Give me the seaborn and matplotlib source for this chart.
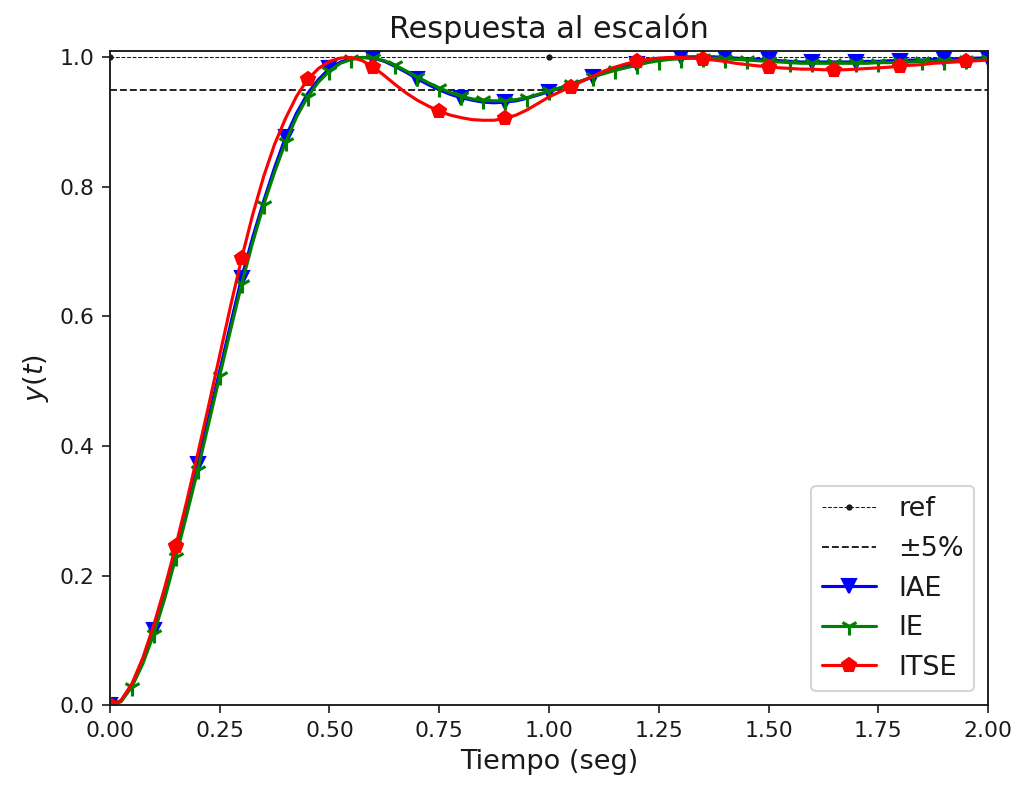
import matplotlib
matplotlib.use("Agg")
import matplotlib.pyplot as plt
import numpy as np
import pandas as pd
import seaborn as sns

# time axis, 0.025 s step
t = [round(0.025 * i, 3) for i in range(81)]

y_iae = [0.000, 0.006, 0.030, 0.068, 0.116, 0.172, 0.235, 0.302, 0.372, 0.444,
         0.516, 0.589, 0.660, 0.722, 0.778, 0.830, 0.877, 0.914, 0.944, 0.966,
         0.983, 0.993, 0.998, 1.000, 0.999, 0.994, 0.986, 0.977, 0.967, 0.958,
         0.950, 0.943, 0.938, 0.934, 0.931, 0.930, 0.931, 0.933, 0.937, 0.942,
         0.947, 0.953, 0.958, 0.964, 0.970, 0.976, 0.981, 0.986, 0.990, 0.994,
         0.997, 0.999, 1.000, 1.001, 1.001, 1.001, 1.000, 0.999, 0.998, 0.997,
         0.996, 0.995, 0.994, 0.993, 0.993, 0.993, 0.993, 0.993, 0.993, 0.994,
         0.994, 0.995, 0.995, 0.996, 0.996, 0.997, 0.997, 0.998, 0.998, 0.999,
         0.999]

y_ie = [0.000, 0.005, 0.028, 0.064, 0.110, 0.165, 0.228, 0.294, 0.363, 0.435,
        0.508, 0.580, 0.650, 0.714, 0.772, 0.823, 0.869, 0.908, 0.939, 0.962,
        0.979, 0.991, 0.997, 1.000, 0.999, 0.995, 0.988, 0.979, 0.970, 0.961,
        0.953, 0.946, 0.940, 0.936, 0.934, 0.933, 0.933, 0.935, 0.938, 0.943,
        0.948, 0.953, 0.959, 0.964, 0.970, 0.975, 0.980, 0.984, 0.988, 0.992,
        0.995, 0.997, 0.998, 0.999, 0.999, 0.999, 0.998, 0.997, 0.996, 0.995,
        0.994, 0.993, 0.992, 0.991, 0.991, 0.991, 0.991, 0.991, 0.991, 0.991,
        0.992, 0.992, 0.993, 0.993, 0.994, 0.994, 0.995, 0.995, 0.996, 0.996,
        0.997]

y_itse = [0.000, 0.007, 0.033, 0.073, 0.124, 0.182, 0.246, 0.315, 0.388, 0.463,
          0.540, 0.617, 0.690, 0.757, 0.816, 0.866, 0.906, 0.940, 0.966, 0.983,
          0.994, 0.999, 1.000, 0.995, 0.985, 0.972, 0.958, 0.945, 0.934, 0.925,
          0.917, 0.911, 0.907, 0.904, 0.903, 0.903, 0.906, 0.911, 0.919, 0.929,
          0.939, 0.947, 0.955, 0.963, 0.971, 0.979, 0.985, 0.990, 0.994, 0.997,
          0.999, 1.000, 1.000, 0.999, 0.998, 0.996, 0.994, 0.991, 0.989, 0.987,
          0.986, 0.984, 0.983, 0.982, 0.982, 0.981, 0.981, 0.981, 0.982, 0.983,
          0.984, 0.985, 0.987, 0.988, 0.989, 0.991, 0.992, 0.993, 0.994, 0.995,
          0.996]

ref_t = [0.0, 1.0, 2.0]
ref_y = [1.0, 1.0, 1.0]
band = [0.95, 1.05]

df = pd.DataFrame({"t": t, "IAE": y_iae, "IE": y_ie, "ITSE": y_itse})

sns.set_theme(style="ticks", rc={
    "text.color": "k", "axes.labelcolor": "k", "axes.edgecolor": "k",
    "xtick.color": "k", "ytick.color": "k",
})
plt.rcParams["font.family"] = ["DejaVu Sans"]
plt.rcParams["mathtext.fontset"] = "dejavusans"

fig = plt.figure(figsize=(1021 / 150, 788 / 150), dpi=150)
ax = fig.add_axes([0.1077, 0.1053, 0.86, 0.830])

ax.plot(ref_t, ref_y, "k.--", lw=0.5, ms=4, label="ref")
ax.axhline(band[0], color="k", ls="--", lw=0.9, label="±5%")
ax.axhline(band[1], color="k", ls="--", lw=0.9)

# seaborn defaults marker edges to white, so set them explicitly
sns.lineplot(data=df, x="t", y="IAE", ax=ax, color="blue", lw=1.5,
             marker="v", ms=7, mec="blue", mew=1, markevery=4, label="IAE",
             estimator=None)
sns.lineplot(data=df, x="t", y="IE", ax=ax, color="green", lw=1.5,
             marker="1", ms=8.5, mec="green", mew=1.5, markevery=2, label="IE",
             estimator=None)
sns.lineplot(data=df, x="t", y="ITSE", ax=ax, color="red", lw=1.5,
             marker="p", ms=7, mec="red", mew=1, markevery=6, label="ITSE",
             estimator=None)

ax.set_xlim(0, 2)
ax.set_ylim(0, 1.01)
ax.set_xticks(np.arange(0, 2.01, 0.25))
ax.set_yticks(np.arange(0, 1.01, 0.2))
ax.tick_params(labelsize=10.5, direction="out", length=4, width=0.8, color="k")
for s in ax.spines.values():
    s.set_visible(True)
    s.set_color("k")
    s.set_linewidth(0.9)

ax.set_title("Respuesta al escalón", fontsize=14.5)
ax.set_xlabel("Tiempo (seg)", fontsize=13)
ax.set_ylabel("$y(t)$", fontsize=13)
ax.legend(loc="lower right", fontsize=13, frameon=True, fancybox=True,
          edgecolor="0.8", framealpha=0.8)

fig.savefig("out.png", dpi=150)
